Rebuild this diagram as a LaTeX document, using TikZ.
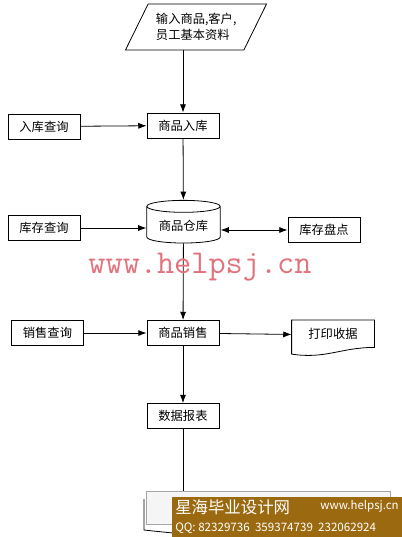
\documentclass[tikz,border=0pt]{standalone}
\usepackage{fontspec}
\usepackage{tikz}
\usetikzlibrary{arrows.meta,shapes.geometric}
\newfontfamily\cjk{Noto Sans CJK SC}
\definecolor{stockmark}{RGB}{225,115,125}
\definecolor{stockbanner}{RGB}{155,106,16}
\tikzset{
  stockstage/.style={
    draw=black,
    line width=0.6pt,
    align=center,
    inner sep=2pt,
    font=\cjk\fontsize{9.2}{12}\selectfont
  },
  stockbox/.style={stockstage,minimum width=54pt,minimum height=18.75pt},
  stockio/.style={stockstage,trapezium,trapezium left angle=60,
                  trapezium right angle=120,trapezium stretches=true,
                  minimum width=106pt,minimum height=34.5pt,
                  text width=60pt,align=left,inner xsep=0pt},
  stockdb/.style={stockstage,cylinder,shape border rotate=90,aspect=0.22,
                  minimum width=55pt,minimum height=32pt},
  stockdoc/.style={stockstage,draw=none,minimum width=61.5pt,minimum height=22pt},
  stockflow/.style={-{Latex[length=2.2mm,width=1.6mm]},line width=0.6pt,black},
  stockboth/.style={{Latex[length=2.2mm,width=1.6mm]}-{Latex[length=2.2mm,width=1.6mm]},
                    line width=0.6pt,black},
  stockline/.style={line width=0.6pt,black}
}
\begin{document}
\begin{tikzpicture}[x=0.75pt,y=-0.75pt]
  \useasboundingbox (0,0) rectangle (402,537);

  \node[stockio] (input) at (196,27)
    {输入商品,客户,\\员工基本资料};
  \node[stockbox] (inquery) at (44,126.5) {入库查询};
  \node[stockbox] (instock) at (183,125.5) {商品入库};
  \node[stockdb] (store) at (183.5,226) {\raisebox{-3pt}{商品仓库}};
  \node[stockbox] (stockquery) at (44,228) {库存查询};
  \node[stockbox] (check) at (324,230) {库存盘点};
  \node[stockbox] (salequery) at (47.5,333) {销售查询};
  \node[stockbox] (sale) at (183,333) {商品销售};
  \node[stockdoc] (receipt) at (333,335) {\raisebox{3pt}{打印收据}};
  \node[stockbox] (report) at (183,416) {数据报表};

  % document outline of the receipt
  \draw[stockline] (receipt.north west) -- (receipt.north east)
    -- ([yshift=2pt]receipt.south east)
    .. controls ([xshift=-25pt,yshift=2pt]receipt.south east)
       and ([xshift=25pt,yshift=-7pt]receipt.south west) .. ([yshift=-3pt]receipt.south west)
    -- cycle;

  \draw[stockflow] (input.south -| instock) -- (instock);
  \draw[stockflow] (inquery) -- (instock);
  \draw[stockflow] (instock) -- (store);
  \draw[stockflow] (stockquery) -- (stockquery -| store.west);
  \draw[stockboth] (store.east |- check) -- (check);
  \draw[stockflow] (store) -- (sale);
  \draw[stockflow] (salequery) -- (sale);
  \draw[stockflow] (sale) -- (receipt);
  \draw[stockflow] (sale) -- (report);

  % watermark
  \node[text=stockmark,font=\ttfamily\fontsize{25}{27}\selectfont] (mark) at (200,267) {www.helpsj.cn};

  % hidden box at the bottom
  \draw[stockline] (144,499) -- (144,530) .. controls (200,536) .. (260,528);
  \node[draw=gray!70,fill=gray!8,minimum width=183pt,minimum height=25pt,
        inner sep=0pt] (bottombox) at (268,508) {};
  \draw[stockline] (report) -- (bottombox.north -| report);
  \node[fill=stockbanner,minimum width=172.5pt,minimum height=30.75pt,
        inner sep=0pt] (banner) at (287,517) {};
  \node[text=white,anchor=west,font=\cjk\fontsize{12.3}{14}\selectfont,inner sep=0pt]
    (bannertitle) at (175,507) {星海毕业设计网};
  \node[text=white,anchor=east,font=\cjk\fontsize{8.6}{10}\selectfont,inner sep=0pt]
    (bannerweb) at (399,506) {www.helpsj.cn};
  \node[text=white,anchor=west,font=\cjk\fontsize{8.7}{10}\selectfont,inner sep=0pt]
    (bannerqq) at (175,528) {QQ: 82329736\ \ 359374739\ \ 232062924};
\end{tikzpicture}
\end{document}
